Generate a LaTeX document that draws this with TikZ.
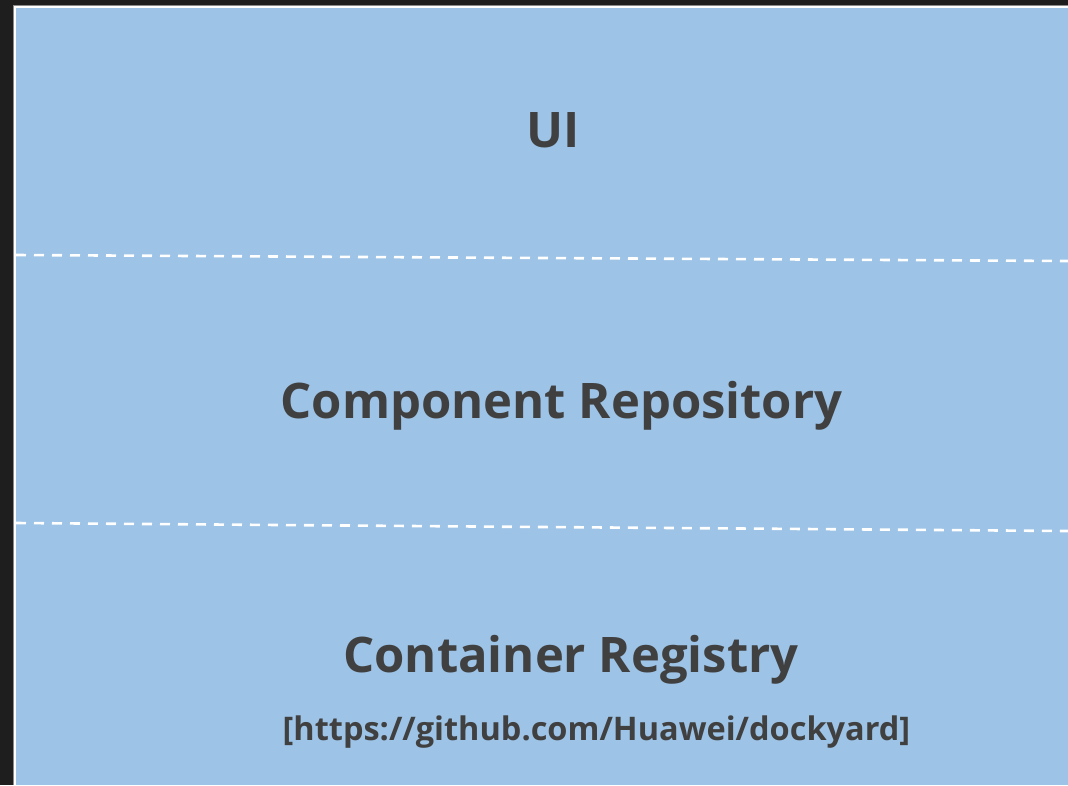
\documentclass[tikz,border=0pt]{standalone}
\usepackage{fontspec}
\setmainfont{Open Sans}
\definecolor{pagebg}{HTML}{1E1E1E}
\definecolor{layerblue}{HTML}{9DC3E6}
\definecolor{labelgrey}{HTML}{404040}
\definecolor{edgegrey}{HTML}{8A8A8A}
\begin{document}
\begin{tikzpicture}[x=1pt,y=-1pt,
  layerline/.style={white, line width=2.6pt, dash pattern=on 10pt off 8pt},
  bigtitle/.style={anchor=base, text=labelgrey, inner sep=0pt, font=\bfseries\fontsize{49}{58}\selectfont},
  linktext/.style={anchor=base, text=labelgrey, inner sep=0pt, font=\bfseries\fontsize{32.5}{38}\selectfont}]
  % page background and the framed stack
  \fill[pagebg] (0,0) rectangle (1068,785);
  \useasboundingbox (0,0) rectangle (1068,785);
  \fill[edgegrey] (13,5) rectangle (1068,785);
  \fill[white] (14,6) rectangle (1068,785);
  \fill[layerblue] (16,8) rectangle (1068,785);
  % layer separators
  \coordinate (s1l) at (16,255);
  \coordinate (s1r) at (1068,261);
  \coordinate (s2l) at (16,523);
  \coordinate (s2r) at (1068,531);
  \draw[layerline] (s1l) -- (s1r);
  \draw[layerline] (s2l) -- (s2r);
  % layer labels
  \node[bigtitle] (ui) at (553,147) {UI};
  \node[bigtitle] (repo) at (561.5,418) {Component Repository};
  \node[bigtitle] (registry) at (571,672) {Container Registry};
  \node[linktext] (link) at (596.5,740) {[https://github.com/Huawei/dockyard]};
\end{tikzpicture}
\end{document}
